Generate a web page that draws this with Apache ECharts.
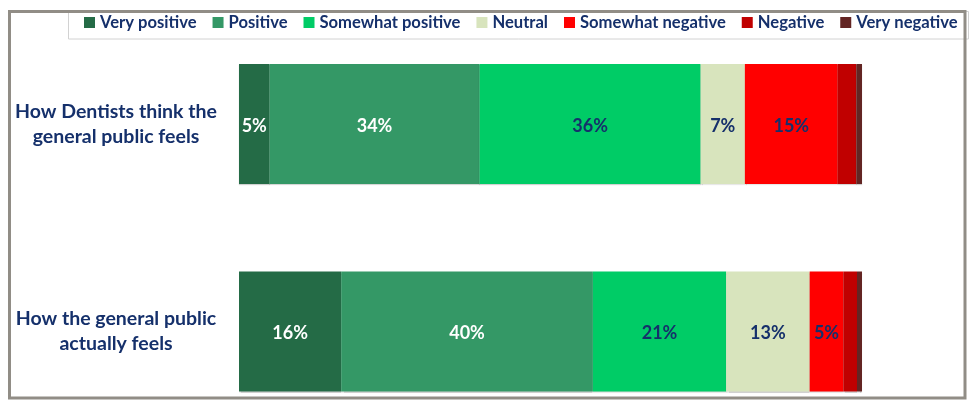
<!DOCTYPE html>
<html>
<head>
<meta charset="utf-8">
<script src="https://cdn.jsdelivr.net/npm/echarts@6/dist/echarts.min.js"></script>
<style>
  html, body { margin: 0; padding: 0; background: #ffffff; }
  #chart { width: 970px; height: 402px; }
</style>
</head>
<body>
<div id="chart"></div>
<script>
// Survey question rows (top to bottom)
const categories = [
  'How Dentists think the\ngeneral public feels',
  'How the general public\nactually feels'
];

// Response scale, in stacking order
const seriesNames = [
  'Very positive', 'Positive', 'Somewhat positive', 'Neutral',
  'Somewhat negative', 'Negative', 'Very negative'
];

// Share of responses (%) per row: [dentists' view, public's actual view]
const veryPositive     = [4.9, 16.4];
const positive         = [33.7, 40.4];
const somewhatPositive = [35.5, 21.4];
const neutral          = [7.1, 13.4];
const somewhatNegative = [14.9, 5.4];
const negative         = [3.0, 2.2];
const veryNegative     = [0.9, 0.8];

const seriesValues = [
  veryPositive, positive, somewhatPositive, neutral,
  somewhatNegative, negative, veryNegative
];

const colors = ['#246b46', '#349866', '#00cc66', '#d8e4bd', '#ff0000', '#c00000', '#632523'];
const labelColors = ['#ffffff', '#ffffff', '#15306b', '#15306b', '#15306b', null, null];
const navy = '#15306b';
const font = 'Lato, "Open Sans", sans-serif';

const chart = echarts.init(document.getElementById('chart'), null, { renderer: 'canvas' });

const series = seriesNames.map((name, i) => ({
  name: name,
  type: 'bar',
  stack: 'total',
  barWidth: 120,
  clip: false,
  data: seriesValues[i],
  itemStyle: {
    color: colors[i],
    shadowColor: 'rgba(0,0,0,0.18)',
    shadowOffsetY: 1,
    shadowBlur: 1
  },
  label: {
    show: labelColors[i] !== null,
    position: 'inside',
    offset: [0, 2],
    formatter: p => Math.round(p.value) + '%',
    color: labelColors[i] || navy,
    fontFamily: font,
    fontWeight: 'bold',
    fontSize: 18
  },
  emphasis: { disabled: true }
}));

chart.setOption({
  animation: false,
  color: colors,
  graphic: [
    {
      type: 'rect',
      z: 0,
      shape: { x: 68.5, y: 11.5, width: 900, height: 27.5 },
      style: { fill: '#ffffff', stroke: '#d2d2d2', lineWidth: 1 }
    },
    {
      type: 'rect',
      z: 100,
      shape: { x: 9.5, y: 11.5, width: 955.5, height: 386.5 },
      style: { fill: 'none', stroke: '#918d86', lineWidth: 3 }
    }
  ],
  legend: {
    data: seriesNames,
    left: 84,
    top: 14,
    padding: 0,
    icon: 'rect',
    itemWidth: 11,
    itemHeight: 11,
    itemGap: 16,
    selectedMode: false,
    textStyle: {
      color: navy,
      fontFamily: font,
      fontWeight: 'bold',
      fontSize: 16.6
    }
  },
  // Row centres sit on the top and bottom edges of the grid (boundaryGap off)
  grid: {
    left: 239,
    width: 623,
    top: 124,
    height: 207.5,
    outerBoundsMode: 'none',
    containLabel: false
  },
  xAxis: {
    type: 'value',
    min: 0,
    max: 100,
    show: false
  },
  yAxis: {
    type: 'category',
    data: categories,
    inverse: true,
    boundaryGap: false,
    axisLine: { show: false },
    axisTick: { show: false },
    splitLine: { show: false },
    axisLabel: {
      margin: 123,
      align: 'center',
      color: navy,
      fontFamily: font,
      fontWeight: 'bold',
      fontSize: 19.5,
      lineHeight: 25
    }
  },
  series: series
});
</script>
</body>
</html>
